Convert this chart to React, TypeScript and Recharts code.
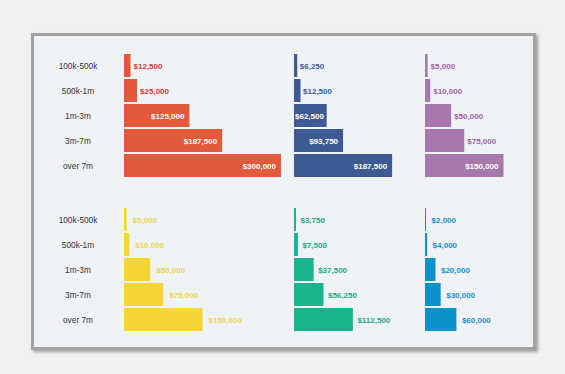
import React from "react";
import { Bar, BarChart, LabelList, XAxis, YAxis } from "recharts";

const categories = ["100k-500k", "500k-1m", "1m-3m", "3m-7m", "over 7m"];

const orangeValues = [12500, 25000, 125000, 187500, 300000];
const navyValues = [6250, 12500, 62500, 93750, 187500];
const purpleValues = [5000, 10000, 50000, 75000, 150000];
const yellowValues = [5000, 10000, 50000, 75000, 150000];
const greenValues = [3750, 7500, 37500, 56250, 112500];
const blueValues = [2000, 4000, 20000, 30000, 60000];

const maxValue = 300000;

const FONT = '"Liberation Sans", Arial, sans-serif';

type Panel = {
  values: number[];
  fill: string;
  labelColor: string;
  insideFrom: number;
  gap: number;
  left: number;
  top: number;
  axis: boolean;
};

const panels: Panel[] = [
  { values: orangeValues, fill: "#e2593c", labelColor: "#d93a38", insideFrom: 100000, gap: 3, left: 30, top: 53, axis: true },
  { values: navyValues, fill: "#3d5a93", labelColor: "#3e5a98", insideFrom: 60000, gap: 2.5, left: 294, top: 53, axis: false },
  { values: purpleValues, fill: "#a678ab", labelColor: "#a062a6", insideFrom: 100000, gap: 3, left: 425, top: 53, axis: false },
  { values: yellowValues, fill: "#f4d535", labelColor: "#f0d44c", insideFrom: Infinity, gap: 6, left: 30, top: 207, axis: true },
  { values: greenValues, fill: "#19b38d", labelColor: "#1aa884", insideFrom: Infinity, gap: 4.5, left: 294, top: 207, axis: false },
  { values: blueValues, fill: "#0a92c9", labelColor: "#1b8fca", insideFrom: Infinity, gap: 5.5, left: 425, top: 207, axis: false },
];

const AXIS_W = 94;
const PLOT_W = 157;
const RIGHT = 50;
const HEIGHT = 125;

function money(v: number) {
  return "$" + v.toLocaleString("en-US");
}

function textWidth(s: string, size: number) {
  let w = 0;
  for (const ch of s) w += ch === "," ? 0.278 : 0.556;
  return w * size;
}

function ValueLabel(props: any, p: Panel) {
  const { x, y, width, height, value } = props;
  const text = money(Number(value));
  const end = Number(x) + Number(width);
  const cy = Number(y) + Number(height) / 2;
  if (Number(value) >= p.insideFrom) {
    const w = textWidth(text, 8);
    const tx = Math.max(Number(x) + 1, end - 5 - w);
    return (
      <text x={tx} y={cy} dy={3} fontSize={8} fontWeight="bold" fontFamily={FONT} fill="#ffffff">
        {text}
      </text>
    );
  }
  return (
    <text x={end + p.gap} y={cy} dy={3} fontSize={8} fontWeight="bold" fontFamily={FONT} fill={p.labelColor}>
      {text}
    </text>
  );
}

function CategoryTick(props: any) {
  return (
    <text x={48} y={props.y} dy={3} textAnchor="middle" fontSize={8.3} fontFamily={FONT} fill="#333333">
      {props.payload.value}
    </text>
  );
}

function SmallBars({ p }: { p: Panel }) {
  const rows = categories.map((name, i) => ({ name, value: p.values[i] }));
  const axisW = p.axis ? AXIS_W : 0;
  return (
    <div style={{ position: "absolute", left: p.left, top: p.top }}>
      <BarChart
        layout="vertical"
        width={axisW + PLOT_W + RIGHT}
        height={HEIGHT}
        data={rows}
        margin={{ top: 0, right: RIGHT, bottom: 0, left: 0 }}
        barCategoryGap={1}
      >
        <XAxis type="number" domain={[0, maxValue]} hide />
        <YAxis
          type="category"
          dataKey="name"
          width={axisW}
          hide={!p.axis}
          axisLine={false}
          tickLine={false}
          tick={CategoryTick}
        />
        <Bar dataKey="value" fill={p.fill} isAnimationActive={false}>
          <LabelList dataKey="value" content={(lp: any) => ValueLabel(lp, p)} />
        </Bar>
      </BarChart>
    </div>
  );
}

export default function App() {
  return (
    <div
      style={{
        position: "absolute",
        left: 0,
        top: 0,
        width: 565,
        height: 374,
        background: "#f1f1f1",
        overflow: "hidden",
      }}
    >
      <div
        style={{
          position: "absolute",
          left: 31,
          top: 33,
          width: 499,
          height: 311,
          border: "3px solid #a2a2a2",
          boxShadow: "2px 2px 3px rgba(0,0,0,0.35)",
          background: "#eff3f6",
        }}
      />
      {panels.map((p, i) => (
        <SmallBars key={i} p={p} />
      ))}
    </div>
  );
}
